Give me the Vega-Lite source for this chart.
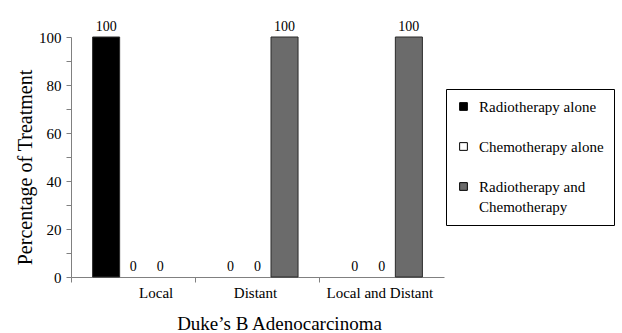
{
  "$schema": "https://vega.github.io/schema/vega-lite/v6.json",
  "autosize": "none",
  "width": 373,
  "height": 240,
  "padding": {"left": 71, "top": 37, "right": 178, "bottom": 56},
  "background": "white",
  "config": {
    "view": {"stroke": null},
    "font": "Liberation Serif"
  },
  "data": {
    "values": [
      {"cat": "Local", "series": "Radiotherapy alone", "value": 100},
      {"cat": "Local", "series": "Chemotherapy alone", "value": 0},
      {"cat": "Local", "series": "Radiotherapy and Chemotherapy", "value": 0},
      {"cat": "Distant", "series": "Radiotherapy alone", "value": 0},
      {"cat": "Distant", "series": "Chemotherapy alone", "value": 0},
      {"cat": "Distant", "series": "Radiotherapy and Chemotherapy", "value": 100},
      {"cat": "Local and Distant", "series": "Radiotherapy alone", "value": 0},
      {"cat": "Local and Distant", "series": "Chemotherapy alone", "value": 0},
      {"cat": "Local and Distant", "series": "Radiotherapy and Chemotherapy", "value": 100}
    ]
  },
  "encoding": {
    "x": {
      "field": "cat",
      "type": "nominal",
      "sort": ["Local", "Distant", "Local and Distant"],
      "scale": {"paddingInner": 0, "paddingOuter": 0},
      "axis": {
        "title": "Duke\u2019s B Adenocarcinoma",
        "titleFont": "Liberation Serif",
        "titleFontSize": 19,
        "titleFontWeight": "normal",
        "titleColor": "black",
        "titleX": 208,
        "titleY": 46,
        "titleBaseline": "middle",
        "titleAlign": "center",
        "labelAngle": 0,
        "labelFont": "Liberation Serif",
        "labelFontSize": 15,
        "labelColor": "black",
        "labelPadding": 3,
        "labelBaseline": "top",
        "bandPosition": 0,
        "labelOffset": {"condition": {"test": "datum.value === 'Local'", "value": 23}, "value": -2},
        "ticks": true,
        "tickSize": 5,
        "tickColor": "#808080",
        "domainColor": "#808080",
        "grid": false
      }
    },
    "xOffset": {
      "field": "series",
      "type": "nominal",
      "sort": ["Radiotherapy alone", "Chemotherapy alone", "Radiotherapy and Chemotherapy"],
      "scale": {"paddingInner": 0, "paddingOuter": 0.8}
    },
    "y": {
      "field": "value",
      "type": "quantitative",
      "scale": {"domain": [0, 100], "nice": false},
      "axis": {
        "title": "Percentage of Treatment",
        "titleFont": "Liberation Serif",
        "titleFontSize": 20,
        "titleFontWeight": "normal",
        "titleColor": "black",
        "titleAngle": 270,
        "titleX": -46,
        "titleY": 130,
        "titleBaseline": "middle",
        "titleAlign": "center",
        "values": [0, 10, 20, 30, 40, 50, 60, 70, 80, 90, 100],
        "labelExpr": "datum.value % 20 === 0 ? datum.label : ''",
        "labelFont": "Liberation Serif",
        "labelFontSize": 15,
        "labelColor": "black",
        "labelPadding": 5,
        "tickSize": 5,
        "tickColor": "#808080",
        "domainColor": "#808080",
        "grid": false
      }
    }
  },
  "layer": [
    {
      "mark": {"type": "bar", "stroke": "#2a2a2a", "strokeWidth": 1},
      "encoding": {
        "color": {
          "field": "series",
          "type": "nominal",
          "sort": ["Radiotherapy alone", "Chemotherapy alone", "Radiotherapy and Chemotherapy"],
          "scale": {
            "domain": ["Radiotherapy alone", "Chemotherapy alone", "Radiotherapy and Chemotherapy"],
            "range": ["#000000", "#ffffff", "#6b6b6b"]
          },
          "legend": {
            "title": null,
            "orient": "none",
            "legendX": 375,
            "legendY": 52,
            "strokeColor": "black",
            "fillColor": "white",
            "padding": 10,
            "labelFont": "Liberation Serif",
            "labelFontSize": 15,
            "labelColor": "black",
            "labelLimit": 300,
            "labelOffset": 8,
            "labelBaseline": "alphabetic",
            "labelExpr": "datum.label === 'Radiotherapy and Chemotherapy' ? ['Radiotherapy and', 'Chemotherapy'] : datum.label",
            "symbolType": "square",
            "symbolSize": 60,
            "symbolStrokeColor": "black",
            "symbolStrokeWidth": 1,
            "rowPadding": 24,
            "encode": {
              "labels": {"update": {"lineHeight": {"value": 20}, "dy": {"value": 5}}}
            }
          }
        },
        "strokeOpacity": {"condition": {"test": "datum.value === 0", "value": 0}, "value": 1}
      }
    },
    {
      "mark": {"type": "text", "font": "Liberation Serif", "fontSize": 14, "color": "black", "baseline": "alphabetic", "dy": -6},
      "encoding": {
        "text": {"field": "value", "type": "quantitative"}
      }
    }
  ]
}
